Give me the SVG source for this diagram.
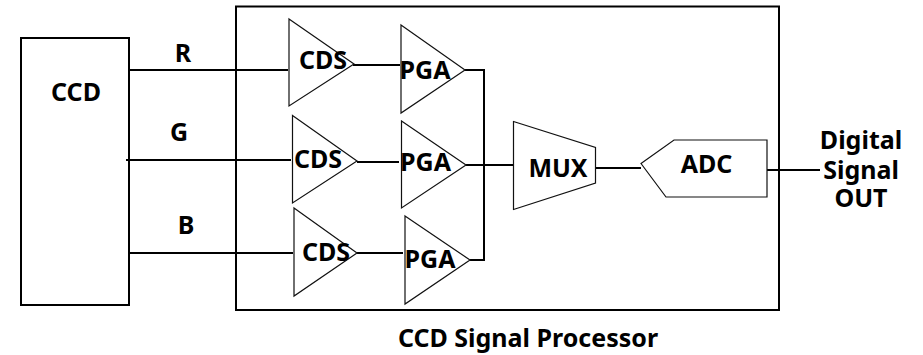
<svg xmlns="http://www.w3.org/2000/svg" width="923" height="355" viewBox="0 0 923 355">
<style>
.thick{fill:none;stroke:#000;stroke-width:2}
.wire{fill:none;stroke:#000;stroke-width:2}
.shape{fill:none;stroke:#111;stroke-width:1.2}
text{font-family:"Noto Sans","Liberation Sans",sans-serif;font-weight:700;font-size:25px;fill:#000;text-anchor:middle}
</style>
<rect width="923" height="355" fill="#fff"/>
<g id="connectors">
<path class="wire" d="M129 70H288"/>
<path class="wire" d="M126 160H291"/>
<path class="wire" d="M129 253H293"/>
<path class="wire" d="M353 65H400"/>
<path class="wire" d="M357 162H399"/>
<path class="wire" d="M357 253H403"/>
<path class="wire" d="M465 70H484V260H470"/>
<path class="wire" d="M466 165H513"/>
<path class="wire" d="M596 168H641"/>
<path class="wire" d="M767 170H820"/>
</g>
<g id="ccd"><rect class="thick" x="21" y="38" width="108" height="267"/><text x="76" y="101">CCD</text></g>
<g id="processor"><rect class="thick" x="236" y="6.500" width="543" height="303.500"/></g>
<g id="cds1"><path class="shape" d="M289 19L354 64L289 106Z"/><text x="323" y="69">CDS</text></g>
<g id="cds2"><path class="shape" d="M292.500 115.500L357 161L292.500 203Z"/><text x="318" y="168">CDS</text></g>
<g id="cds3"><path class="shape" d="M294 208L357 253L294 296Z"/><text x="326" y="261">CDS</text></g>
<g id="pga1"><path class="shape" d="M401 25L465 70L401 113Z"/><text x="425" y="79">PGA</text></g>
<g id="pga2"><path class="shape" d="M401.500 121L466 165L401.500 208Z"/><text x="425.500" y="171">PGA</text></g>
<g id="pga3"><path class="shape" d="M405 216L470 260L405 304Z"/><text x="430" y="268">PGA</text></g>
<g id="mux"><path class="shape" d="M513.500 121.500L595.500 147.500V183L513.500 209.500Z"/><text x="558" y="177">MUX</text></g>
<g id="adc"><path class="shape" d="M641 163.500L674 140H767V197H666Z"/><text x="706.500" y="173">ADC</text></g>
<g id="labels">
<text x="183" y="61.500">R</text>
<text x="179" y="141">G</text>
<text x="186" y="233.500">B</text>
<text x="861" y="149">Digital</text>
<text x="861" y="179">Signal</text>
<text x="861" y="207">OUT</text>
<text x="528" y="347">CCD Signal Processor</text>
</g>
</svg>
